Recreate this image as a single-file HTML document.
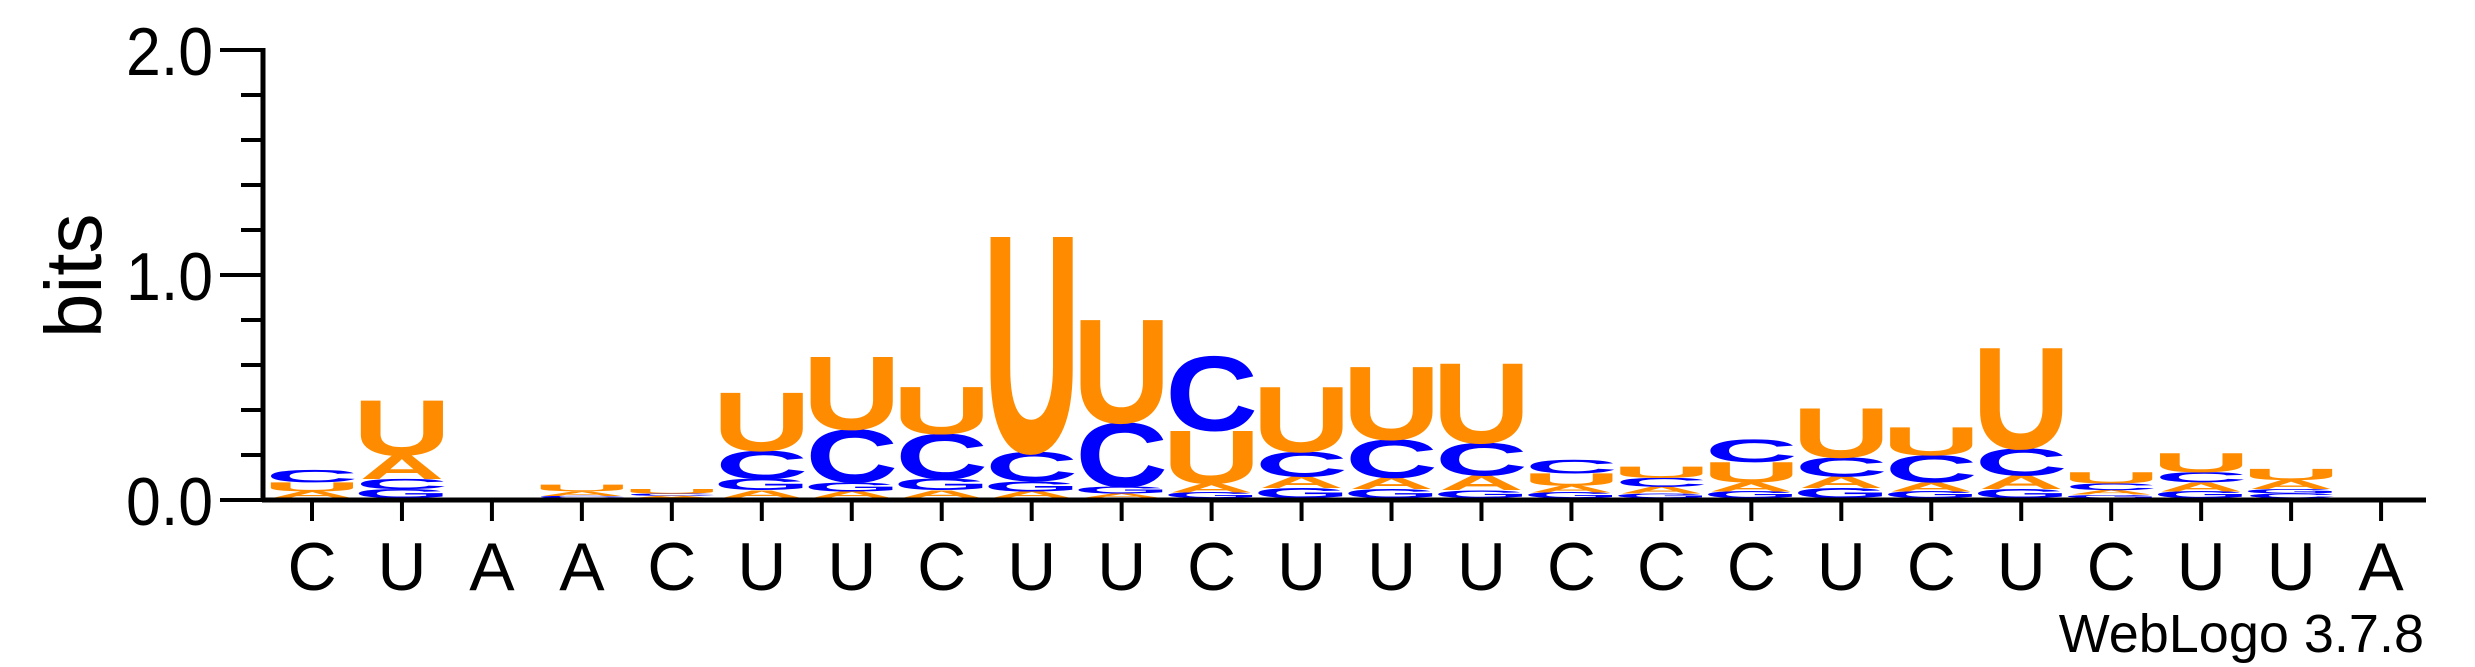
<!DOCTYPE html>
<html><head><meta charset="utf-8"><style>
html,body{margin:0;padding:0;background:#fff;}
svg{display:block;}
text{font-family:"Liberation Sans",Arial,sans-serif;}
</style></head><body>
<svg id="logo" width="2475" height="667" viewBox="0 0 2475 667" xmlns="http://www.w3.org/2000/svg">
<g id="stacks"></g>
<g id="axes"></g>
<text x="0" y="0" font-size="80" transform="translate(101,338) rotate(-90)">bits</text>
<text x="2424" y="652" font-size="54" text-anchor="end">WebLogo 3.7.8</text>
</svg>
<script>
const positions = ["C","U","A","A","C","U","U","C","U","U","C","U","U","U","C","C","C","U","C","U","C","U","U","A"];
const hA = [0.03,0.105,0.00,0.02,0.01,0.035,0.03,0.035,0.03,0.02,0.04,0.05,0.05,0.065,0.03,0.03,0.04,0.05,0.04,0.06,0.02,0.04,0.04,0.00];
const hC = [0.055,0.045,0.00,0.01,0.01,0.125,0.235,0.20,0.13,0.285,0.33,0.11,0.17,0.145,0.06,0.04,0.10,0.085,0.12,0.12,0.03,0.045,0.02,0.00];
const hG = [0.00,0.04,0.00,0.00,0.00,0.05,0.04,0.05,0.045,0.03,0.025,0.045,0.04,0.035,0.025,0.02,0.03,0.045,0.03,0.04,0.015,0.03,0.02,0.00];
const hU = [0.04,0.245,0.00,0.03,0.02,0.26,0.325,0.21,0.965,0.46,0.235,0.29,0.325,0.355,0.055,0.05,0.09,0.22,0.125,0.45,0.05,0.085,0.05,0.00];
const yTicks = [0.0,1.0,2.0];
const yTickLabels = ["0.0","1.0","2.0"];

const NS = "http://www.w3.org/2000/svg";
const x0 = 312, dx = 89.96, base = 500, letterBase = 498, bitPx = 225, letterW = 82;
const xs = i => x0 + i*dx;
const ys = v => base - v*bitPx;
const ly = v => letterBase - v*bitPx;
const colors = {A:"#FF8C00", C:"#0000FF", G:"#0000FF", U:"#FF8C00"};

function mk(tag, attrs, parent){
  const e = document.createElementNS(NS, tag);
  for (const k in attrs) e.setAttribute(k, attrs[k]);
  parent.appendChild(e);
  return e;
}
const axes = document.getElementById('axes');
let yl = mk('line', {x1:263, y1:ys(2)-2, x2:263, y2:base+2, stroke:'#000','stroke-width':5}, axes);


let xl = mk('line', {x1:262, y1:base, x2:2426, y2:base, stroke:'#000','stroke-width':5}, axes);


for (let k=0;k<=10;k++){
  const v = k*0.2;
  const major = (k%5===0);
  const t = mk('line', {x1: major?220:241, y1:ys(v), x2:263, y2:ys(v), stroke:'#000','stroke-width':4}, axes);
  
  
}
yTicks.forEach((v,i)=>{
  const t = mk('text', {x:213, y:ys(v)+25, 'font-size':68, 'text-anchor':'end', transform:`translate(213,0) scale(0.92,1) translate(-213,0)`}, axes);
  t.textContent = yTickLabels[i];
  
  
});
positions.forEach((p,i)=>{
  const t = mk('line', {x1:xs(i), y1:base, x2:xs(i), y2:521, stroke:'#000','stroke-width':4}, axes);
  
  
  const l = mk('text', {x:xs(i), y:590, 'font-size':68, 'text-anchor':'middle'}, axes);
  l.textContent = p;
  
  
});
const stacks = document.getElementById('stacks');
const CAP = 69.5, INK = {A:70, C:64, G:66, U:60};
positions.forEach((p,i)=>{
  const items = [['A',hA[i]],['C',hC[i]],['G',hG[i]],['U',hU[i]]].filter(d=>d[1]>0).sort((a,b)=>a[1]-b[1]);
  let acc = 0;
  const g = mk('g', {}, stacks);
  
  
  items.forEach(([L,h])=>{
    const yb = ly(acc);
    const hp = h*bitPx;
    const sy = hp/CAP, sx = letterW/INK[L];
    const t = mk('text', {x:0, y:0, 'font-size':100, 'font-weight':'bold', 'text-anchor':'middle', fill:colors[L],
      transform:`translate(${xs(i)},${yb}) scale(${sx},${sy})`}, g);
    t.textContent = L;
    
    
    acc += h;
  });
});
</script>
</body></html>
